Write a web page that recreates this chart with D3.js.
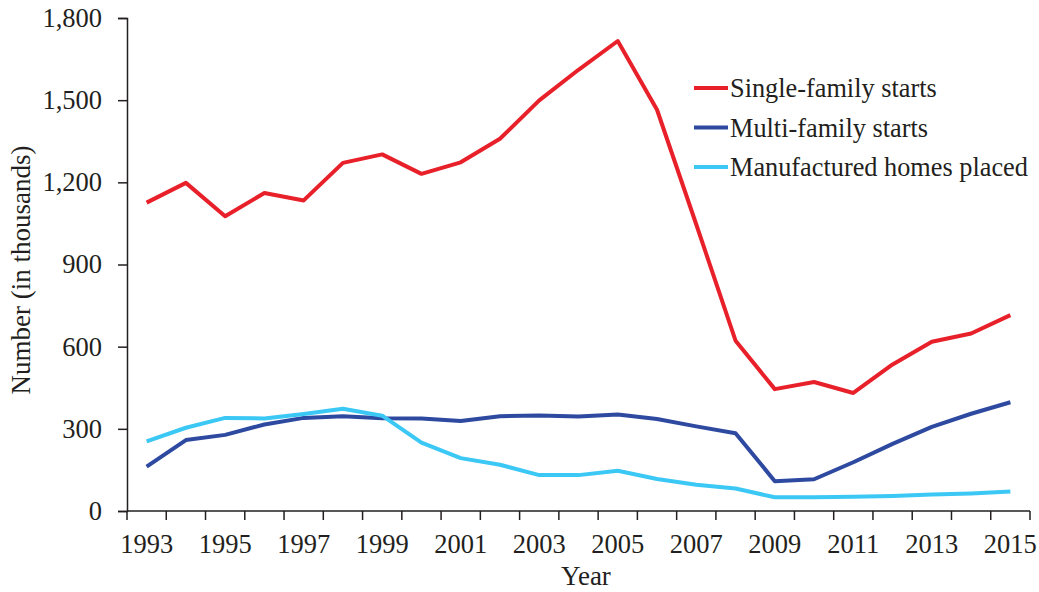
<!DOCTYPE html>
<html><head><meta charset="utf-8">
<script src="https://cdn.jsdelivr.net/npm/d3@7"></script>
<style>
body{margin:0;background:#fff;}
svg text{font-family:"Liberation Serif","Times New Roman",serif;fill:#231f20;}
</style></head>
<body><svg id="c" width="1039" height="592"></svg>
<script>
const years = [1993,1994,1995,1996,1997,1998,1999,2000,2001,2002,2003,2004,2005,2006,2007,2008,2009,2010,2011,2012,2013,2014,2015];
const singleFamily = [1126,1198,1076,1161,1134,1271,1302,1231,1273,1359,1499,1611,1716,1465,1046,622,445,471,431,535,618,648,715];
const multiFamily = [162,259,278,316,340,346,339,338,329,346,349,345,352,336,309,284,109,116,178,245,307,355,397];
const manufactured = [254,304,340,338,354,373,348,250,193,169,131,131,147,117,96,82,50,50,52,55,60,64,71];
const yTicks = [0,300,600,900,1200,1500,1800];
const seriesNames = ["Single-family starts","Multi-family starts","Manufactured homes placed"];
const seriesColors = ["#e8202a","#2e4aa0","#3cc8f4"];

const svg = d3.select("#c");
const L=127,R=1030,T=18,B=511;
const x = d3.scaleBand().domain(years).range([L,R]).padding(0);
const y = d3.scaleLinear().domain([0,1800]).range([B,T]);
const axisColor="#231f20";

// y axis
const ya = svg.append("g").attr("transform",`translate(${L},0)`)
  .call(d3.axisLeft(y).tickValues(yTicks).tickSize(9).tickPadding(16).tickFormat(d3.format(",")));
ya.select(".domain").attr("stroke",axisColor).attr("stroke-width",1.5);
ya.selectAll(".tick line").attr("stroke",axisColor).attr("stroke-width",1.5);
ya.selectAll(".tick text").attr("font-size",26.5).attr("font-family","Liberation Serif").attr("fill","#231f20");

// x axis
const xg = svg.append("g");
xg.append("line").attr("x1",L).attr("x2",R).attr("y1",B).attr("y2",B).attr("stroke",axisColor).attr("stroke-width",1.5);
const tickPos = years.map(d=>x(d)).concat([x(years[years.length-1])+x.bandwidth()]);
xg.selectAll("line.t").data(tickPos).enter().append("line").attr("class","t")
  .attr("x1",d=>d).attr("x2",d=>d).attr("y1",B).attr("y2",B+9).attr("stroke",axisColor).attr("stroke-width",1.5);
xg.selectAll("text").data(years.filter((d,i)=>i%2===0)).enter().append("text")
  .attr("x",d=>x(d)+x.bandwidth()/2).attr("y",553).attr("text-anchor","middle").attr("font-size",26.5).text(d=>d);

// titles
svg.append("text").attr("x",586).attr("y",585).attr("text-anchor","middle").attr("font-size",27).text("Year");
svg.append("text").attr("transform","translate(30,270) rotate(-90)").attr("text-anchor","middle").attr("font-size",27).text("Number (in thousands)");

// lines
const line = d3.line().x((d,i)=>x(years[i])+x.bandwidth()/2).y(d=>y(d));
[singleFamily,multiFamily,manufactured].forEach((s,k)=>{
  svg.append("path").datum(s).attr("d",line).attr("fill","none").attr("stroke",seriesColors[k])
    .attr("stroke-width",4).attr("stroke-linejoin","round");
});

// legend
const lg = svg.append("g");
seriesNames.forEach((n,k)=>{
  const yy = 88 + k*39.5;
  lg.append("line").attr("x1",694).attr("x2",728).attr("y1",yy).attr("y2",yy).attr("stroke",seriesColors[k]).attr("stroke-width",4);
  lg.append("text").attr("x",730).attr("y",yy+9).attr("font-size",26.3).text(n);
});
</script></body></html>
